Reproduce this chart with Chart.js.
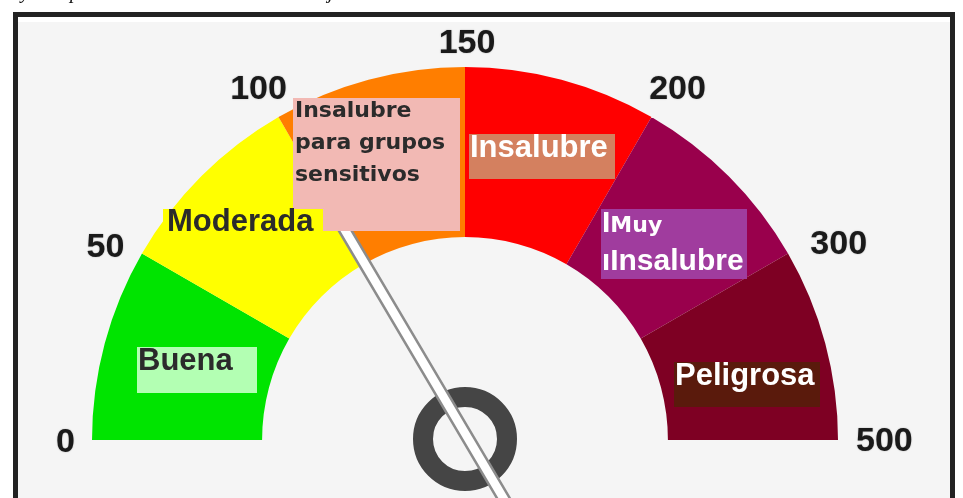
<!DOCTYPE html>
<html>
<head>
<meta charset="utf-8">
<script src="https://cdn.jsdelivr.net/npm/chart.js@4.4.0/dist/chart.umd.min.js"></script>
<style>
html, body { margin: 0; padding: 0; background: #fff; }
</style>
</head>
<body>
<canvas id="gauge" width="963" height="498"></canvas>
<script>
// AQI bands, each drawn with the same sweep (the dial is not linear)
const categories = ['Buena', 'Moderada', 'Insalubre para grupos sensitivos', 'Insalubre', 'Muy Insalubre', 'Peligrosa'];
const breakpoints = [0, 50, 100, 150, 200, 300, 500];
const tickLabels = ['0', '50', '100', '150', '200', '300', '500'];
const segmentWeights = [1, 1, 1, 1, 1, 1];
const segmentColors = ['#00e400', '#ffff00', '#ff7e00', '#ff0000', '#99004c', '#7e0023'];
const needleValue = 99;

const BIG = 'bold 31px "Liberation Sans", Arial, sans-serif';
const MID = 'bold 30px "Liberation Sans", Arial, sans-serif';
const SMALL = 'bold 22px "DejaVu Sans", sans-serif';

// small hand nudges for the tick labels, the source image isn't symmetric
const tickNudge = [[-2, 2], [-4, 12], [0, 6], [2, 3], [6, 6], [11, 13], [3, 1]];

// label boxes laid over the dial
const labelBoxes = [
    { x: 137, y: 347, w: 120, h: 46, bg: '#b3ffb3', color: '#2b2b2b', tx: 138,
      lines: [{ y: 370, runs: [[BIG, 'Buena']] }] },
    { x: 293, y: 98, w: 167, h: 133, bg: '#f2b9b4', color: '#2b2b2b', tx: 295,
      lines: [{ y: 117, runs: [[SMALL, 'Insalubre']] },
              { y: 149, runs: [[SMALL, 'para grupos']] },
              { y: 181, runs: [[SMALL, 'sensitivos']] }] },
    { x: 163, y: 209, w: 160, h: 23, bg: '#ffff00', color: '#2b2b2b', tx: 167,
      lines: [{ y: 231, runs: [[BIG, 'Moderada']] }] },
    { x: 469, y: 134, w: 146, h: 45, bg: '#d4805f', color: '#ffffff', tx: 470,
      lines: [{ y: 157, runs: [[BIG, 'Insalubre']] }] },
    { x: 601, y: 209, w: 146, h: 70, bg: '#a03c9e', color: '#ffffff', tx: 602,
      lines: [{ y: 232, runs: [[MID, 'I'], [SMALL, 'Muy']] },
              { y: 270, runs: [[SMALL, 'I'], [MID, 'Insalubre']] }] },
    { x: 674, y: 362, w: 146, h: 45, bg: '#5a1a0c', color: '#ffffff', tx: 675,
      lines: [{ y: 385, runs: [[BIG, 'Peligrosa']] }] }
];

const framePlugin = {
    id: 'frame',
    beforeDraw(chart) {
        const ctx = chart.ctx;
        ctx.save();
        ctx.fillStyle = '#ffffff';
        ctx.fillRect(0, 0, chart.width, chart.height);
        ctx.fillStyle = '#f5f5f5';
        ctx.fillRect(18, 22, 932, 476);
        ctx.strokeStyle = '#222222';
        ctx.lineWidth = 5;
        ctx.strokeRect(15.5, 14.5, 937, 520);
        // cut-off caption above the frame
        ctx.fillStyle = '#111';
        ctx.font = 'italic 20px "Liberation Serif", serif';
        ctx.textBaseline = 'alphabetic';
        ctx.fillText('y', 21, -2);
        ctx.fillText('p', 70, -2);
        ctx.fillText('j', 328, -2);
        ctx.restore();
    }
};

const dialPlugin = {
    id: 'dial',
    afterDatasetsDraw(chart) {
        const ctx = chart.ctx;
        const meta = chart.getDatasetMeta(0);
        const arcs = meta.data;
        const cx = arcs[0].x, cy = arcs[0].y, outer = arcs[0].outerRadius;
        ctx.save();

        // tick labels at band edges
        ctx.font = 'bold 34px "Liberation Sans", Arial, sans-serif';
        ctx.fillStyle = '#1a1a1a';
        ctx.textAlign = 'center';
        ctx.textBaseline = 'middle';
        ctx.shadowColor = 'rgba(0,0,0,0.35)';
        ctx.shadowBlur = 1.5;
        tickLabels.forEach((t, i) => {
            const a = i < arcs.length ? arcs[i].startAngle : arcs[i - 1].endAngle;
            const w = ctx.measureText(t).width, h = 25;
            const r = outer + 15 + Math.abs(Math.cos(a)) * w / 2 + Math.abs(Math.sin(a)) * h / 2;
            ctx.fillText(t, cx + r * Math.cos(a) + tickNudge[i][0], cy + r * Math.sin(a) + 1 + tickNudge[i][1]);
        });
        ctx.shadowColor = 'transparent';
        ctx.shadowBlur = 0;

        // hub ring
        ctx.beginPath();
        ctx.arc(cx, cy - 1, 42, 0, Math.PI * 2);
        ctx.strokeStyle = '#454545';
        ctx.lineWidth = 20;
        ctx.stroke();

        // needle
        let seg = 0;
        for (let i = 0; i < breakpoints.length - 1; i++) {
            if (needleValue >= breakpoints[i] && needleValue <= breakpoints[i + 1]) { seg = i; break; }
        }
        const frac = (needleValue - breakpoints[seg]) / (breakpoints[seg + 1] - breakpoints[seg]);
        const ang = arcs[seg].startAngle + frac * (arcs[seg].endAngle - arcs[seg].startAngle);
        ctx.translate(cx + 4, cy);
        ctx.rotate(ang);
        ctx.beginPath();
        ctx.rect(-120, -5.5, 370, 11);
        ctx.fillStyle = '#ffffff';
        ctx.fill();
        ctx.strokeStyle = '#8c8c8c';
        ctx.lineWidth = 2.5;
        ctx.stroke();
        ctx.restore();

        // label boxes
        ctx.save();
        ctx.textAlign = 'left';
        ctx.textBaseline = 'alphabetic';
        labelBoxes.forEach(b => {
            ctx.fillStyle = b.bg;
            ctx.fillRect(b.x, b.y, b.w, b.h);
            ctx.fillStyle = b.color;
            b.lines.forEach(line => {
                let x = b.tx;
                line.runs.forEach(([font, text]) => {
                    ctx.font = font;
                    ctx.fillText(text, x, line.y);
                    x += ctx.measureText(text).width;
                });
            });
        });
        ctx.restore();
    }
};

new Chart(document.getElementById('gauge'), {
    type: 'doughnut',
    data: {
        labels: categories,
        datasets: [{
            data: segmentWeights,
            backgroundColor: segmentColors,
            borderWidth: 0
        }]
    },
    options: {
        responsive: false,
        animation: false,
        circumference: 180,
        rotation: -90,
        cutout: '54.4%',
        layout: { padding: { left: 92, right: 125, top: 67, bottom: 58 } },
        plugins: {
            legend: { display: false },
            tooltip: { enabled: false }
        }
    },
    plugins: [framePlugin, dialPlugin]
});
</script>
</body>
</html>
